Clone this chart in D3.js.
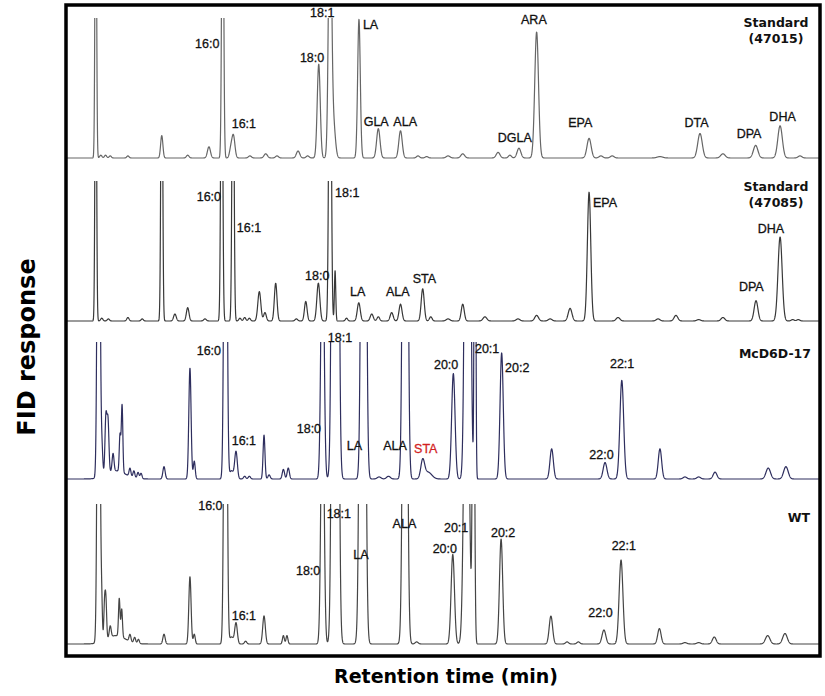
<!DOCTYPE html>
<html><head><meta charset="utf-8">
<script src="https://cdn.jsdelivr.net/npm/d3@7"></script>
<style>body{margin:0;background:#fff}</style>
</head><body><svg id="c" width="825" height="696"></svg>
<script>
// ---------------- DATA ----------------
const retentionDomain = [2, 42]; // minutes
const sampleNames = [["Standard", "(47015)"], ["Standard", "(47085)"], ["McD6D-17"], ["WT"]];

// peaks: [retention time (min), response (% of full scale), peak sigma (min)]
const peaksStd47015 = [
  [3.53,250,.04],[3.80,2,.06],[4.05,2,.06],[4.30,1.5,.06],[5.24,1.5,.06],[7.04,16,.06],
  [8.42,2,.07],[9.55,8,.08],[10.28,250,.05],[10.71,6,.07],[10.85,16,.08],[11.73,1.5,.08],
  [12.57,3,.09],[13.17,1.5,.08],[14.29,5,.09],[14.80,1.5,.08],[15.39,67,.08],
  [15.99,200,.08],[16.17,25,.1],[17.53,99,.07],[18.56,21,.09],[19.74,19.5,.09],
  [20.67,1.5,.08],[21.13,1,.08],[22.27,1.5,.1],[23.05,3,.1],[24.93,4,.1],[25.56,2,.08],
  [26.04,7,.1],[26.98,90,.1],[29.77,14,.11],[30.4,1.5,.1],[31.0,1.5,.1],[33.54,1,.15],
  [35.67,17.5,.12],[36.89,3,.12],[38.63,9,.12],[39.93,23,.12],[40.99,1.5,.1]
];
const peaksStd47085 = [
  [3.53,250,.04],[3.85,2,.06],[4.2,1.5,.06],[5.24,2.5,.06],[6.0,1.5,.06],[7.04,250,.045],
  [7.74,5,.07],[8.42,9.5,.07],[9.34,1.5,.07],[10.23,250,.05],[10.83,250,.05],
  [11.2,2,.06],[11.45,2.5,.06],[11.7,2,.06],[12.23,21,.08],[12.53,6,.07],[13.10,27,.07],
  [14.2,1.5,.07],[14.70,14,.07],[15.37,27,.08],[15.99,300,.06],[16.26,36,.035],
  [16.87,2,.06],[17.52,13,.08],[18.21,5,.08],[18.56,3,.07],[19.27,6,.08],[19.74,12,.08],
  [20.92,23,.08],[21.35,3,.07],[22.27,1.5,.1],[23.05,12,.08],[24.23,3,.1],[25.99,1.5,.1],
  [26.98,4,.1],[27.7,1.5,.1],[28.76,9,.1],[29.77,92,.09],[31.31,2.5,.1],[33.44,1.5,.1],
  [34.39,4,.1],[35.6,1,.1],[36.89,2.5,.1],[38.65,14.5,.1],[39.93,60,.11],[40.6,1,.08],[40.9,1,.08]
];
const peaksMcD6D17 = [
  [3.68,400,.064],[3.85,22,.05],[4.07,42,.05],[4.18,38,.05],[4.45,13,.05],[4.82,27,.04],
  [4.93,49,.04],[4.6,6,.5],[5.35,6,.05],[5.56,5,.05],[5.78,4.5,.05],[5.94,4,.05],
  [7.16,9,.06],[8.54,81,.06],[8.77,13,.05],[10.43,420,.07],[10.75,6,.1],[10.99,20,.07],
  [11.45,2,.06],[11.7,2,.06],[12.48,32,.05],[12.75,3,.06],[13.51,7,.06],[13.77,8,.06],
  [15.59,205,.08],[16.27,1500,.107],[17.78,780,.096],[18.6,1.5,.1],[19.1,2,.1],
  [19.99,780,.096],[20.92,13,.1],[21.2,5,.2],[22.55,77,.09],[23.31,740,.106],[23.70,400,.037],
  [25.12,92,.085],[27.78,22,.09],[30.62,12,.1],[31.51,72,.1],[33.54,22,.09],
  [34.87,1.5,.1],[35.6,1.5,.1],[36.47,5,.1],[39.30,8,.12],[40.24,9,.12]
];
const peaksWT = [
  [3.68,400,.064],[3.84,29,.04],[4.0,26,.04],[4.07,26,.04],[4.3,8,.05],[4.78,27,.04],
  [4.91,20,.04],[4.6,6,.5],[5.35,5,.05],[5.6,4,.05],[5.8,3,.05],[7.16,7,.06],
  [8.54,48,.06],[8.77,7,.05],[10.43,420,.07],[10.75,5,.1],[10.99,15,.07],[11.5,2,.06],
  [12.48,20,.07],[13.51,6,.05],[13.7,6,.05],[15.59,205,.08],[16.27,1500,.107],
  [17.72,900,.106],[19.98,540,.096],[20.6,1.5,.08],[22.52,64,.09],[23.25,320,.117],
  [23.62,300,.053],[25.09,75,.085],[27.74,20,.09],[28.6,1.5,.08],[29.2,1.5,.08],
  [30.56,10,.1],[31.47,60,.1],[33.51,11,.09],[34.87,1,.1],[35.6,1,.1],[36.43,5,.1],
  [39.27,6,.12],[40.19,7.5,.12]
];

// peak labels: [name, retention time of label start (min), response level of label baseline (%)]
const labelsStd47015 = [
  ["16:0",8.81,78.4],["16:1",10.76,21.2],["18:0",14.39,68.8],["18:1",14.93,100.5],
  ["LA",17.74,91.9],["GLA",17.78,22.9],["ALA",19.36,22.9],["DGLA",24.91,11.6],
  ["ARA",26.15,95.7],["EPA",28.66,21.9],["DTA",34.84,21.9],["DPA",37.62,14.1],["DHA",39.36,26.4]
];
const labelsStd47085 = [
  ["16:0",8.90,85.9],["16:1",11.03,63.8],["18:0",14.66,29.3],["18:1",16.26,88.8],
  ["LA",17.05,17.9],["ALA",18.97,17.9],["STA",20.39,27.4],["EPA",29.98,81.2],
  ["DPA",37.74,21.6],["DHA",38.74,63.1]
];
const labelsMcD6D17 = [
  ["16:0",8.90,90.8],["16:1",10.76,24.9],["18:0",14.22,33.4],["18:1",15.87,100],
  ["LA",16.88,21.3],["ALA",18.82,21.3],["STA",20.46,18.9],["20:0",21.52,80.2],
  ["20:1",23.70,92.3],["20:2",25.30,77.8],["22:0",29.78,14.8],["22:1",30.88,80.7]
];
const labelsWT = [
  ["16:0",8.98,95.7],["16:1",10.76,17.3],["18:0",14.18,49.4],["18:1",15.81,89.8],
  ["LA",17.23,60.6],["ALA",19.32,82.7],["20:0",21.45,64.9],["20:1",22.05,80.3],
  ["20:2",24.55,76.7],["22:0",29.73,19.0],["22:1",30.97,67.2]
];

// ---------------- LAYOUT ----------------
const svg = d3.select("#c");
const frame = {x: 66, y: 5, w: 754, h: 651};
const x = d3.scaleLinear().domain(retentionDomain).range([67, 819]);

const panels = [
  {peaks: peaksStd47015, labels: labelsStd47015, top: 18, base: 158, color: "#666666",
   name: sampleNames[0], nameX: 776, nameY: [27, 43], anchor: "middle"},
  {peaks: peaksStd47085, labels: labelsStd47085, top: 181, base: 321, color: "#383838",
   name: sampleNames[1], nameX: 776, nameY: [191, 207], anchor: "middle"},
  {peaks: peaksMcD6D17, labels: labelsMcD6D17, top: 342, base: 479, color: "#2e2e5e",
   name: sampleNames[2], nameX: 811, nameY: [358], anchor: "end"},
  {peaks: peaksWT, labels: labelsWT, top: 504, base: 644, color: "#454545",
   name: sampleNames[3], nameX: 810, nameY: [522], anchor: "end"}
];

const defs = svg.append("defs");
const step = 0.008;
const times = d3.range(retentionDomain[0], retentionDomain[1] + step / 2, step);

panels.forEach((p, i) => {
  const y = d3.scaleLinear().domain([0, 100]).range([p.base, p.top]);
  defs.append("clipPath").attr("id", "clip" + i)
    .append("rect").attr("x", frame.x).attr("y", p.top)
    .attr("width", frame.w).attr("height", p.base - p.top + 8);

  const trace = times.map(t => [t, d3.sum(p.peaks, pk => pk[1] * Math.exp(-((t - pk[0]) ** 2) / (2 * pk[2] * pk[2])))]);
  const line = d3.line().x(d => x(d[0])).y(d => y(d[1]));
  svg.append("path").datum(trace)
    .attr("d", line)
    .attr("clip-path", "url(#clip" + i + ")")
    .attr("fill", "none").attr("stroke", p.color).attr("stroke-width", 1.2)
    .attr("stroke-linejoin", "round");

  svg.append("g").selectAll("text").data(p.labels).join("text")
    .attr("x", d => x(d[1])).attr("y", d => y(d[2]))
    .attr("font-family", "Liberation Sans, Arial, sans-serif")
    .attr("font-size", 12.5)
    .attr("fill", d => (i === 2 && d[0] === "STA") ? "#d21f1f" : "#111")
    .attr("stroke", d => (i === 2 && d[0] === "STA") ? "#d21f1f" : "#111")
    .attr("stroke-width", 0.3)
    .text(d => d[0]);

  p.name.forEach((nm, k) => {
    svg.append("text").attr("x", p.nameX).attr("y", p.nameY[k])
      .attr("text-anchor", p.anchor)
      .attr("font-family", "DejaVu Sans, Verdana, sans-serif")
      .attr("font-weight", "bold").attr("font-size", 12.5)
      .attr("fill", "#111").text(nm);
  });
});

svg.append("rect").attr("x", frame.x).attr("y", frame.y)
  .attr("width", frame.w).attr("height", frame.h)
  .attr("fill", "none").attr("stroke", "#000").attr("stroke-width", 3.5);

svg.append("text").attr("transform", "translate(35,347) rotate(-90)")
  .attr("text-anchor", "middle")
  .attr("font-family", "DejaVu Sans, Verdana, sans-serif")
  .attr("font-weight", "bold").attr("font-size", 24).attr("fill", "#000")
  .text("FID response");

svg.append("text").attr("x", 446).attr("y", 683)
  .attr("text-anchor", "middle")
  .attr("font-family", "DejaVu Sans, Verdana, sans-serif")
  .attr("font-weight", "bold").attr("font-size", 19).attr("fill", "#000")
  .text("Retention time (min)");
</script>
</body></html>
